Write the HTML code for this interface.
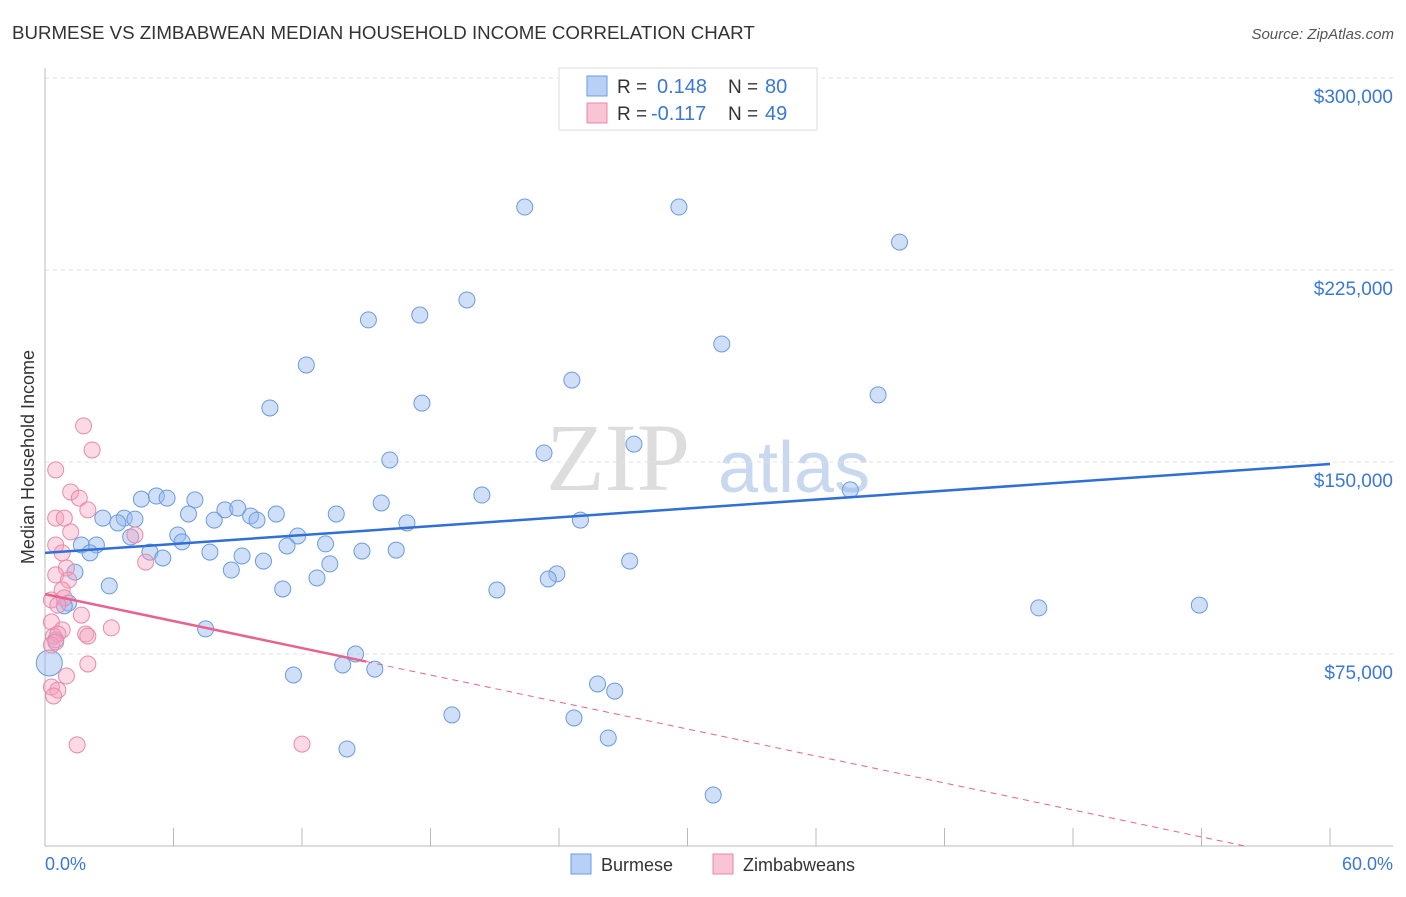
<!DOCTYPE html>
<html><head><meta charset="utf-8"><style>
body{margin:0;background:#fff;font-family:"Liberation Sans",sans-serif;}
</style></head><body>
<svg id="chart" width="1406" height="892" xmlns="http://www.w3.org/2000/svg">
<text x="12" y="39" font-size="18.7" fill="#333">BURMESE VS ZIMBABWEAN MEDIAN HOUSEHOLD INCOME CORRELATION CHART</text>
<text x="1394" y="39" font-size="15" fill="#555" font-style="italic" text-anchor="end">Source: ZipAtlas.com</text>
<text x="690" y="490" font-size="96" fill="#ddd" font-family="Liberation Serif" text-anchor="end">ZIP</text>
<text x="718" y="492" font-size="72" fill="#c8d8ee">atlas</text>
<g id="grid"></g><g id="marks"></g>
<text transform="translate(34,457) rotate(-90)" font-size="18" fill="#333" text-anchor="middle">Median Household Income</text>
<text x="45" y="870" font-size="18" fill="#3a78d8">0.0%</text>
<text x="1393" y="870" font-size="18" fill="#3a78d8" text-anchor="end">60.0%</text>
<g>
<rect x="559" y="68" width="258" height="62" fill="#fff" stroke="#ddd"/>
<rect x="587" y="76" width="20" height="20" fill="#b8d0f5" stroke="#6a9be0"/>
<rect x="587" y="103" width="20" height="20" fill="#f9c4d4" stroke="#e88aa8"/>
<text x="617" y="93" font-size="19" fill="#333">R =</text>
<text x="657" y="93" font-size="20" fill="#3a78d8">0.148</text>
<text x="728" y="93" font-size="19" fill="#333">N =</text>
<text x="765" y="93" font-size="20" fill="#3a78d8">80</text>
<text x="617" y="120" font-size="19" fill="#333">R =</text>
<text x="651" y="120" font-size="20" fill="#3a78d8">-0.117</text>
<text x="728" y="120" font-size="19" fill="#333">N =</text>
<text x="765" y="120" font-size="20" fill="#3a78d8">49</text>
</g>
<g>
<rect x="571" y="854" width="20" height="20" fill="#b8d0f5" stroke="#6a9be0"/>
<text x="601" y="871" font-size="18" fill="#333">Burmese</text>
<rect x="713" y="854" width="20" height="20" fill="#f9c4d4" stroke="#e88aa8"/>
<text x="743" y="871" font-size="18" fill="#333">Zimbabweans</text>
</g>
</svg>
<script>
const yTicks=[75000,150000,225000,300000];
const yTickLabels=["$75,000","$150,000","$225,000","$300,000"];
const xTicks=[0,6,12,18,24,30,36,42,48,54,60];
const burmeseX=[22.4,29.6,39.9,19.7,17.5,15.1,31.6,12.2,24.6,38.9,17.6,10.5,27.5,23.3,16.1,37.6,20.4,4.5,5.2,5.7,7.0,15.7,8.4,9.0,9.6,9.9,10.8,13.6,6.7,2.7,3.7,4.2,7.9,16.9,25.0,3.4,4.0,6.2,6.4,11.8,13.1,11.3,14.8,16.4,1.7,2.4,2.1,4.9,5.5,7.7,9.2,10.2,13.3,27.3,8.7,1.4,12.7,23.9,23.5,3.0,11.1,21.1,46.4,53.9,1.1,0.9,7.5,0.5,0.2,14.5,13.9,15.4,11.6,25.8,26.6,19.0,24.7,26.3,14.1,31.2];
const burmeseY=[249.6,249.6,235.9,213.3,207.4,205.5,196.1,187.9,182.0,176.2,173.0,171.1,157.0,153.5,150.8,139.1,137.1,135.5,136.7,135.9,135.2,134.0,131.3,132.0,128.9,127.3,129.7,129.7,129.7,128.1,128.1,127.7,127.3,126.2,127.3,126.2,120.7,121.5,118.8,121.1,118.0,117.2,115.2,115.6,117.6,117.6,114.5,114.8,112.5,114.8,113.3,111.3,110.2,111.3,107.8,107.0,104.7,106.3,104.3,101.6,100.4,100.0,93.0,94.1,94.9,93.8,84.8,80.5,71.5,75.0,70.7,69.1,66.8,63.3,60.5,51.2,50.0,42.2,37.9,19.9];
const zimX=[1.8,2.2,0.5,1.2,1.6,2.0,0.5,0.9,1.2,4.2,0.5,0.8,1.0,4.7,0.5,1.1,0.8,0.3,0.9,0.6,1.7,0.3,3.1,0.8,0.4,0.6,1.9,2.0,0.3,0.5,2.0,1.0,0.3,0.6,0.4,1.5,12.0];
const zimY=[164.1,154.7,146.9,138.3,135.9,131.3,128.1,128.1,122.7,121.5,117.6,114.5,108.6,110.9,105.9,103.9,100.0,96.1,96.9,94.1,90.2,87.5,85.2,84.4,82.0,82.8,82.8,82.0,78.5,79.7,71.1,66.4,62.1,60.9,58.6,39.5,39.8];
const burmeseTrend=[114.5,149.2];
const zimTrend=[98.4,-7.0];
const X=p=>45+p*(1330-45)/60;
const Y=v=>846-v/75000*192;
const NS="http://www.w3.org/2000/svg";
function mk(tag,attrs,parent){const e=document.createElementNS(NS,tag);for(const k in attrs)e.setAttribute(k,attrs[k]);parent.appendChild(e);return e;}
const grid=document.getElementById('grid'),marks=document.getElementById('marks');
yTicks.forEach((t,i)=>{
  const l=mk('line',{x1:45,x2:1393,y1:Y(t),y2:Y(t),stroke:'#e2e2e2','stroke-dasharray':'4,4'},grid);
  
  
  const tx=mk('text',{x:1393,y:Y(t)+25,'font-size':19,fill:'#3a78d8','text-anchor':'end'},grid);
  tx.textContent=yTickLabels[i];
  
  
});
const ya=mk('line',{x1:45,x2:45,y1:68,y2:846,stroke:'#bbb'},grid);


const xa=mk('line',{x1:45,x2:1393,y1:846,y2:846,stroke:'#bbb'},grid);


xTicks.forEach(t=>{
  const l=mk('line',{x1:X(t),x2:X(t),y1:828,y2:846,stroke:'#bbb'},grid);
  
  
});
burmeseX.forEach((p,i)=>{
  const c=mk('circle',{cx:X(p),cy:Y(burmeseY[i]*1000),r:(i==68?13:8),fill:'rgba(150,185,240,0.45)',stroke:'#6a9be0','stroke-width':1},marks);
  
  
});
zimX.forEach((p,i)=>{
  const c=mk('circle',{cx:X(p),cy:Y(zimY[i]*1000),r:8,fill:'rgba(245,160,190,0.4)',stroke:'#e88aa8','stroke-width':1},marks);
  
  
});
const bt=mk('line',{x1:X(0),y1:Y(burmeseTrend[0]*1000),x2:X(60),y2:Y(burmeseTrend[1]*1000),stroke:'#2f6fd6','stroke-width':2.5},marks);


const zAt=p=>zimTrend[0]+(zimTrend[1]-zimTrend[0])*p/60;
const zs=mk('line',{x1:X(0),y1:Y(zAt(0)*1000),x2:X(15),y2:Y(zAt(15)*1000),stroke:'#e8628e','stroke-width':2.5},marks);


const pEnd=zimTrend[0]/(zimTrend[0]-zimTrend[1])*60;
const zd=mk('line',{x1:X(15),y1:Y(zAt(15)*1000),x2:X(pEnd),y2:Y(0),stroke:'#e8628e','stroke-width':1,'stroke-dasharray':'6,5'},marks);


</script>
</body></html>
